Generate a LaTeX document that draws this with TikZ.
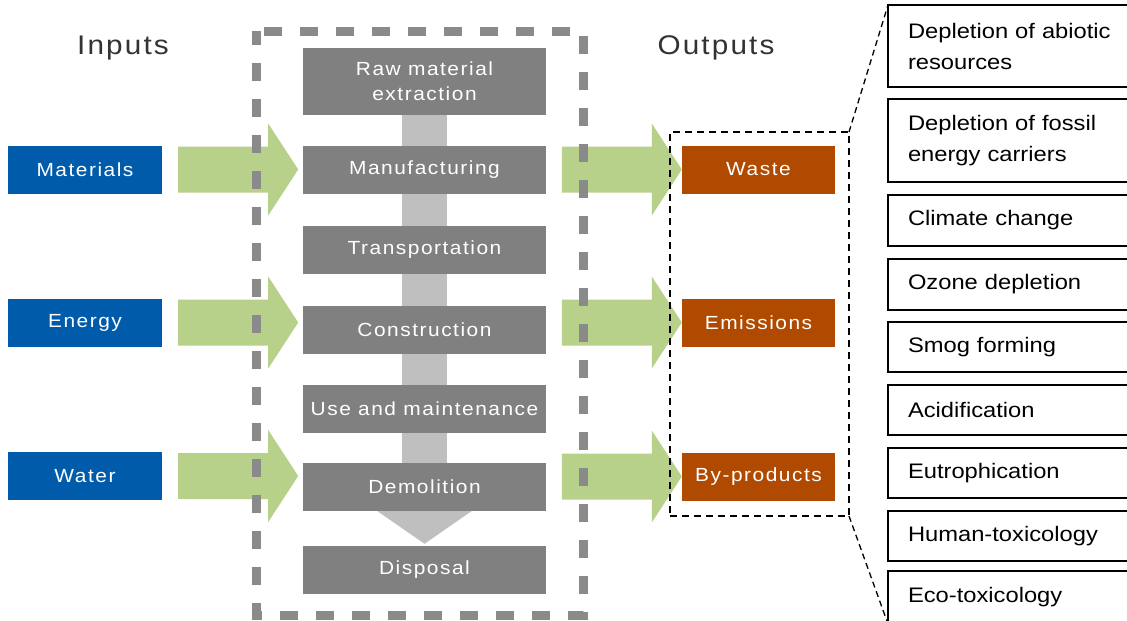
\documentclass[tikz,border=0pt]{standalone}
\usepackage{fontspec}
\setmainfont{Liberation Sans}
\newfontfamily\lblfont[FakeStretch=1.1,LetterSpace=8]{Liberation Sans}
\newfontfamily\impfont[FakeStretch=1.13]{Liberation Sans}
\usetikzlibrary{calc}
\pgfdeclarelayer{background}
\pgfsetlayers{background,main}
\definecolor{procgray}{RGB}{128,128,128}
\definecolor{bargray}{RGB}{191,191,191}
\definecolor{framegray}{RGB}{138,138,138}
\definecolor{inblue}{RGB}{0,92,170}
\definecolor{outorange}{RGB}{176,74,0}
\definecolor{arrowgreen}{RGB}{183,208,138}
\definecolor{titlegray}{RGB}{51,51,51}
\tikzset{
  procbox/.style={fill=procgray, minimum width=243, minimum height=48, inner sep=0, text=white, align=center,
    font=\lblfont\fontsize{19}{25}\selectfont},
  inbox/.style={fill=inblue, minimum width=154, minimum height=48, inner sep=0, text=white,
    font=\lblfont\fontsize{19}{25}\selectfont},
  outbox/.style={fill=outorange, minimum width=153, minimum height=48, inner sep=0, text=white,
    font=\lblfont\fontsize{19}{25}\selectfont},
  titletext/.style={text=titlegray, font=\lblfont\fontsize{27}{30}\selectfont, inner sep=0},
  impbox/.style={draw=black, line width=1.6, anchor=north west, minimum width=260, text width=220,
    inner xsep=20, inner ysep=0, outer sep=0, align=left, font=\impfont\fontsize{21}{31}\selectfont},
  thindash/.style={draw=black, line width=1.3, dash pattern=on 6 off 4},
  garrow/.pic={\fill[arrowgreen] (0,-23) -- (90,-23) -- (90,-46) -- (120,0) -- (90,46) -- (90,23) -- (0,23) -- cycle;}
}
\begin{document}
\begin{tikzpicture}[x=1pt,y=-1pt]
\useasboundingbox (0,0) rectangle (1127,621);

% titles
\node[titletext] (tin) at (123,48) {Inputs};
\node[titletext] (tout) at (716,48) {Outputs};

% process boxes
\node[procbox, minimum height=67] (raw) at (424.5,81.5) {Raw material\\extraction};
\node[procbox] (manu) at (424.5,170) {Manufacturing};
\node[procbox] (trans) at (424.5,250) {Transportation};
\node[procbox] (cons) at (424.5,329.5) {Construction};
\node[procbox] (use) at (424.5,409) {Use and maintenance};
\node[procbox] (demo) at (424.5,487) {Demolition};
\node[procbox] (disp) at (424.5,570) {Disposal};

\begin{pgfonlayer}{background}
  \draw[bargray, line width=45] (raw.south) -- (demo.north);
\end{pgfonlayer}
\fill[bargray] ($(demo.south)+(-47,0)$) -- ($(demo.south)+(47,0)$) -- ($(disp.north)+(0,-2)$) -- cycle;

% inputs
\node[inbox] (mat) at (85,169.5) {Materials};
\node[inbox] (ene) at (85,322.5) {Energy};
\node[inbox] (wat) at (85,476) {Water};

% outputs
\node[outbox] (waste) at (758.5,169.5) {Waste};
\node[outbox] (emis) at (758.5,322.5) {Emissions};
\node[outbox] (byp) at (758.5,476.5) {By-products};

% green arrows
\pic at ($(mat.east)+(16,0)$) {garrow};
\pic at ($(ene.east)+(16,0)$) {garrow};
\pic at ($(wat.east)+(16,0)$) {garrow};
\pic at ($(waste.west)+(-120,0)$) {garrow};
\pic at ($(emis.west)+(-120,0)$) {garrow};
\pic at ($(byp.west)+(-120,0)$) {garrow};

% gray dashed frame
\draw[framegray, line width=9, dash pattern=on 18 off 18, dash phase=4] (256,31) rectangle (583,615);

% black dashed output frame
\node[draw=black, line width=1.8, dash pattern=on 7 off 5, minimum width=179, minimum height=384,
  inner sep=0, outer sep=0, anchor=north west] (outframe) at (670,132) {};

% impact categories
\node[impbox, minimum height=82] (imp1) at (888,5) {Depletion of abiotic\\resources};
\node[impbox, minimum height=83] (imp2) at (888,99) {Depletion of fossil\\energy carriers};
\node[impbox, minimum height=51] (imp3) at (888,195) {Climate change};
\node[impbox, minimum height=51] (imp4) at (888,259) {Ozone depletion};
\node[impbox, minimum height=50] (imp5) at (888,322) {Smog forming};
\node[impbox, minimum height=50] (imp6) at (888,385) {Acidification};
\node[impbox, minimum height=50] (imp7) at (888,448) {Eutrophication};
\node[impbox, minimum height=50] (imp8) at (888,511) {Human-toxicology};
\node[impbox, minimum height=53] (imp9) at (888,571) {Eco-toxicology};

\draw[thindash] (outframe.north east) -- (imp1.north west);
\draw[thindash] (outframe.south east) -- (imp9.south west);
\end{tikzpicture}
\end{document}
